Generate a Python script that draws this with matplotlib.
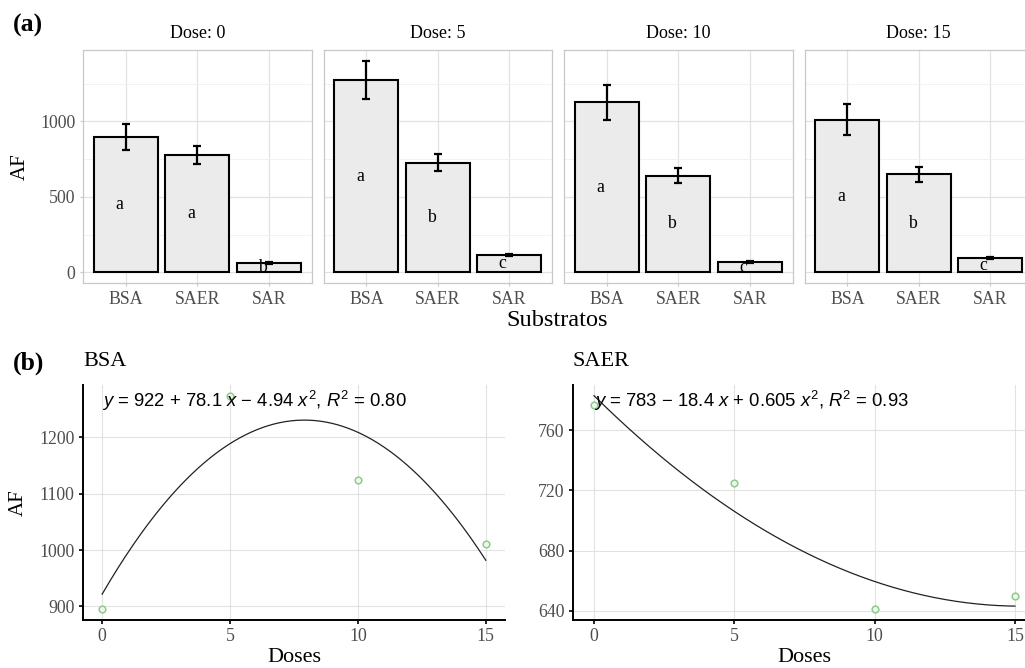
import numpy as np
import matplotlib
matplotlib.use("Agg")
import matplotlib.pyplot as plt
from matplotlib.ticker import MultipleLocator, FixedLocator

# ---- data ----
doses = [0, 5, 10, 15]
substrates = ["BSA", "SAER", "SAR"]

bsa_mean = [895, 1274, 1125, 1010]
saer_mean = [777, 725, 641, 650]
sar_mean = [61, 114, 70, 96]

bsa_err = [88, 128, 114, 102]
saer_err = [60, 56, 50, 50]
sar_err = [5, 6, 5, 5]

letters_by_dose = [["a", "a", "b"], ["a", "b", "c"], ["a", "b", "c"], ["a", "b", "c"]]

bsa_fit = [922, 78.1, -4.94]
bsa_r2 = 0.80
saer_fit = [783, -18.4, 0.605]
saer_r2 = 0.93

# ---- styling ----
W, H = 1025, 668
plt.rcParams["font.family"] = ["Liberation Serif", "DejaVu Serif"]
plt.rcParams["mathtext.fontset"] = "custom"
plt.rcParams["mathtext.rm"] = "Liberation Sans"
plt.rcParams["mathtext.it"] = "Liberation Sans:italic"

TICK_COLOR = "#4D4D4D"
GRID_MAJOR = "#E2E2E2"
GRID_MINOR = "#F0F0F0"
BORDER = "#C8C8C8"
BAR_FILL = "#EBEBEB"
POINT_GREEN = "#8DCB8D"
TICK_SIZE = 12.8

fig = plt.figure(figsize=(W / 100, H / 100), dpi=100)


def px_axes(x0, y0, x1, y1):
    """Axes from pixel box (left, top, right, bottom) measured from the top-left."""
    return fig.add_axes([x0 / W, 1 - y1 / H, (x1 - x0) / W, (y1 - y0) / H])


def fig_text(x, y, s, **kw):
    fig.text(x / W, 1 - y / H, s, **kw)


# ---- (a) bar panels ----
means = np.array([bsa_mean, saer_mean, sar_mean]).T  # rows: doses
errs = np.array([bsa_err, saer_err, sar_err]).T
ytop = (means + errs).max()
pad = 0.05 * ytop
panel_w, gap = 228.5, 12.0
x_pos = np.arange(len(substrates))

for i, dose in enumerate(doses):
    left = 83 + i * (panel_w + gap)
    ax = px_axes(left, 50, left + panel_w, 283)
    ax.set_xlim(-0.6, len(substrates) - 0.4)
    ax.set_ylim(-pad, ytop + pad)
    ax.yaxis.set_major_locator(FixedLocator([0, 500, 1000]))
    ax.yaxis.set_minor_locator(FixedLocator([250, 750, 1250]))
    ax.set_xticks(x_pos)
    ax.set_xticklabels(substrates)
    ax.grid(which="major", color=GRID_MAJOR, linewidth=0.9)
    ax.grid(which="minor", axis="y", color=GRID_MINOR, linewidth=0.6)
    ax.set_axisbelow(True)
    for sp in ax.spines.values():
        sp.set_color(BORDER)
        sp.set_linewidth(0.9)
    ax.tick_params(which="major", length=2.5, width=0.8, color=BORDER,
                   labelcolor=TICK_COLOR, labelsize=TICK_SIZE, pad=3)
    ax.tick_params(which="minor", length=0)
    if i > 0:
        ax.tick_params(axis="y", labelleft=False, length=0)

    ax.bar(x_pos, means[i], width=0.9, color=BAR_FILL, edgecolor="black",
           linewidth=1.5, zorder=2)
    ax.errorbar(x_pos, means[i], yerr=errs[i], fmt="none", ecolor="black",
                elinewidth=1.6, capsize=2.6, capthick=1.6, zorder=3)
    for j, lab in enumerate(letters_by_dose[i]):
        ax.text(x_pos[j] - 0.09, means[i][j] / 2, lab, ha="center", va="center",
                fontsize=TICK_SIZE, color="black", zorder=4)

    fig_text(left + panel_w / 2, 33, f"Dose: {dose}", ha="center", va="center",
             fontsize=13, color="black")

fig_text(20, 166.5, "AF", rotation=90, ha="center", va="center", fontsize=15)
fig_text(557, 321, "Substratos", ha="center", va="center", fontsize=17.5)
fig_text(28, 25, "(a)", ha="center", va="center", fontsize=18.5, fontweight="bold")


# ---- (b) quadratic fits ----
def equation(c, r2):
    def term(v):
        return ("+" if v >= 0 else "\u2212") + f" {abs(v):g}"
    return (f"$y$ = {c[0]:g} {term(c[1])} $x$ {term(c[2])} $x^2$, "
            f"$R^2$ = {r2:.2f}")


fit_panels = [
    ("BSA", bsa_mean, bsa_fit, bsa_r2, (83, 385, 505, 620), 100),
    ("SAER", saer_mean, saer_fit, saer_r2, (573, 385, 1036, 620), 40),
]

xs = np.linspace(0, 15, 200)
for title, pts, coef, r2, box, ystep in fit_panels:
    ax = px_axes(*box)
    curve = coef[0] + coef[1] * xs + coef[2] * xs ** 2
    lo = min(min(pts), curve.min())
    hi = max(max(pts), curve.max())
    ypad = 0.05 * (hi - lo)
    ax.set_xlim(-0.75, 15.75)
    ax.set_ylim(lo - ypad, hi + ypad)
    ax.xaxis.set_major_locator(FixedLocator(doses))
    ax.yaxis.set_major_locator(MultipleLocator(ystep))
    ax.grid(which="major", color=GRID_MAJOR, linewidth=0.8)
    ax.set_axisbelow(True)
    for side in ("top", "right"):
        ax.spines[side].set_visible(False)
    for side in ("left", "bottom"):
        ax.spines[side].set_color("black")
        ax.spines[side].set_linewidth(1.4)
    ax.tick_params(length=3, width=1.2, color="black", labelcolor=TICK_COLOR,
                   labelsize=TICK_SIZE, pad=3)

    ax.plot(xs, curve, color="#222222", linewidth=0.9, zorder=3)
    ax.plot(doses, pts, linestyle="none", marker="o", markersize=4.8,
            markerfacecolor="#EEF7EE", markeredgecolor=POINT_GREEN,
            markeredgewidth=1.1, zorder=4, clip_on=False)
    ax.text(0, 0.985, equation(coef, r2), transform=ax.get_xaxis_transform(),
            ha="left", va="top", fontsize=13.3, family="Liberation Sans",
            color="black", zorder=5)

    x0, _, x1, _ = box
    fig_text(x0, 362, title, ha="left", va="center", fontsize=16)
    fig_text((x0 + x1) / 2, 657, "Doses", ha="center", va="center", fontsize=16)

fig_text(18.5, 502.5, "AF", rotation=90, ha="center", va="center", fontsize=15)
fig_text(29, 363, "(b)", ha="center", va="center", fontsize=18.5, fontweight="bold")

fig.savefig("out.png", dpi=100)
